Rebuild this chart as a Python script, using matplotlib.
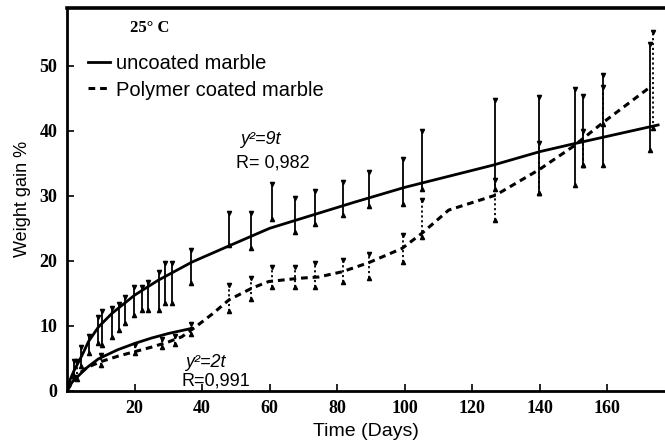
import matplotlib
matplotlib.use("Agg")
import matplotlib.pyplot as plt

# fitted curves
upper_fit_t = [0, 1, 2, 4.4, 6.4, 9.3, 13.3, 20, 27, 37, 48, 60, 75, 85, 100, 126, 140, 150, 175]
upper_fit_y = [0, 1.8, 3.0, 5.4, 7.6, 9.8, 11.9, 14.7, 17.0, 19.8, 22.3, 25.0, 27.4, 29.0, 31.3, 34.7, 36.8, 38.0, 40.9]

lower_fit_t = [0, 1.5, 3.4, 6, 9.3, 15, 20.2, 25, 30, 37]
lower_fit_y = [0, 1.3, 2.3, 3.6, 4.9, 6.3, 7.3, 8.1, 8.8, 9.6]

coated_t = [0, 3, 6, 10.2, 15, 20, 25, 30, 34, 38, 43, 48, 54.8, 59.7, 68.6, 74.5, 81.4,
            89.3, 99.2, 105, 113, 126.9, 139.7, 149.6, 159, 172.8]
coated_y = [0, 2.4, 3.6, 4.5, 5.3, 6.0, 6.7, 7.5, 8.3, 9.8, 11.8, 14.0, 15.8, 16.8, 17.3, 17.5, 18.3,
            19.7, 21.9, 24.2, 27.8, 30.1, 34.0, 37.5, 41.4, 46.8]

# error bars, uncoated marble
unc_t = [2, 4, 6.4, 9.3, 10.3, 13.3, 15.3, 17.2, 19.7, 22.2, 24.1, 27.1, 29.1, 31.0, 36.8,
         48.1, 54.5, 60.7, 67.6, 73.5, 81.6, 89.5, 99.5, 105.1, 126.7, 139.7, 150.3, 152.8, 158.8, 172.6]
unc_hi = [4.6, 6.8, 8.4, 11.4, 12.2, 12.8, 13.4, 14.4, 16.0, 16.0, 16.8, 18.3, 19.6, 19.6, 21.6,
          27.3, 27.3, 31.8, 29.6, 30.8, 32.1, 33.7, 35.6, 40.0, 44.8, 45.2, 46.4, 45.3, 48.6, 53.4]
unc_lo = [2.2, 3.8, 5.8, 7.3, 7.0, 8.3, 9.3, 10.4, 11.6, 12.4, 12.4, 12.4, 13.5, 13.5, 16.5,
          22.4, 21.9, 26.4, 24.5, 25.6, 27.0, 28.4, 28.8, 31.0, 31.0, 30.4, 31.6, 34.7, 34.7, 37.0]

# error bars, polymer coated marble
coat_t = [3, 10, 20, 28, 32, 36.8, 48.1, 54.5, 60.7, 67.6, 73.5, 81.6, 89.5, 99.5, 105.1,
          126.7, 139.7, 152.8, 158.8, 173.5]
coat_hi = [4.5, 5.5, 7.0, 8.0, 8.4, 10.3, 16.3, 17.3, 19.1, 19.1, 19.7, 20.1, 21.1, 24.0, 29.3,
           32.4, 38.1, 40.0, 46.8, 55.2]
coat_lo = [1.8, 4.0, 5.8, 6.8, 7.2, 8.8, 12.2, 14.1, 16.0, 16.0, 16.0, 16.8, 17.3, 19.8, 23.7,
           26.3, 30.4, 34.7, 41.1, 40.4]

x_ticks = [20, 40, 60, 80, 100, 120, 140, 160]
y_ticks = [0, 10, 20, 30, 40, 50]

sans = ["Liberation Sans", "DejaVu Sans"]
serif = ["Liberation Serif", "DejaVu Serif"]

fig = plt.figure(figsize=(6.65, 4.47), dpi=100)
ax = fig.add_axes([0.1008, 0.126, 0.899, 0.856])

# error bars
ax.vlines(unc_t, unc_lo, unc_hi, colors="black", linewidth=1.3)
ax.plot(unc_t, unc_hi, "v", color="black", markersize=3)
ax.plot(unc_t, unc_lo, "^", color="black", markersize=3)
ax.vlines(coat_t, coat_lo, coat_hi, colors="black", linewidth=1.3, linestyles=(0, (1.2, 1.5)))
ax.plot(coat_t, coat_hi, "v", color="black", markersize=3)
ax.plot(coat_t, coat_lo, "^", color="black", markersize=3)

# curves
ax.plot(upper_fit_t, upper_fit_y, "-", color="black", linewidth=2.0, label="uncoated marble")
ax.plot(lower_fit_t, lower_fit_y, "-", color="black", linewidth=2.0)
ax.plot(coated_t, coated_y, color="black", linewidth=2.2, linestyle=(0, (2.2, 1.6)),
        label="Polymer coated marble")

ax.set_xlim(0, 177)
ax.set_ylim(0, 58.9)
ax.set_xticks(x_ticks)
ax.set_yticks(y_ticks)
ax.set_xticklabels([str(v) for v in x_ticks], family=serif, fontsize=13, fontweight="bold")
ax.set_yticklabels([str(v) for v in y_ticks], family=serif, fontsize=13, fontweight="bold")
ax.tick_params(direction="in", length=5, width=1.2, pad=7)
ax.set_xlabel("Time (Days)", family=sans, fontsize=14, labelpad=4)
ax.set_ylabel("Weight gain %", family=sans, fontsize=13, labelpad=6)

ax.spines["right"].set_visible(False)
for s in ["left", "bottom"]:
    ax.spines[s].set_linewidth(2.0)
ax.spines["top"].set_linewidth(2.6)

ax.legend(loc="upper left", bbox_to_anchor=(0.018, 0.905), frameon=False,
          handlelength=1.1, handletextpad=0.3, borderpad=0, labelspacing=0.35,
          prop={"family": sans, "size": 14.5})

ax.text(0.105, 0.948, "25° C", transform=ax.transAxes, family=serif, fontsize=12,
        fontweight="bold", va="center")
ax.text(51.1, 38.6, "y²=9t", family=sans, style="italic", fontsize=13, va="center")
ax.text(49.9, 35.0, "R= 0,982", family=sans, fontsize=13, va="center")
ax.text(34.8, 4.3, "y²=2t", family=sans, style="italic", fontsize=13, va="center")
ax.text(33.9, 1.5, "R=0,991", family=sans, fontsize=13, va="center")

fig.savefig("out.png", dpi=100)
